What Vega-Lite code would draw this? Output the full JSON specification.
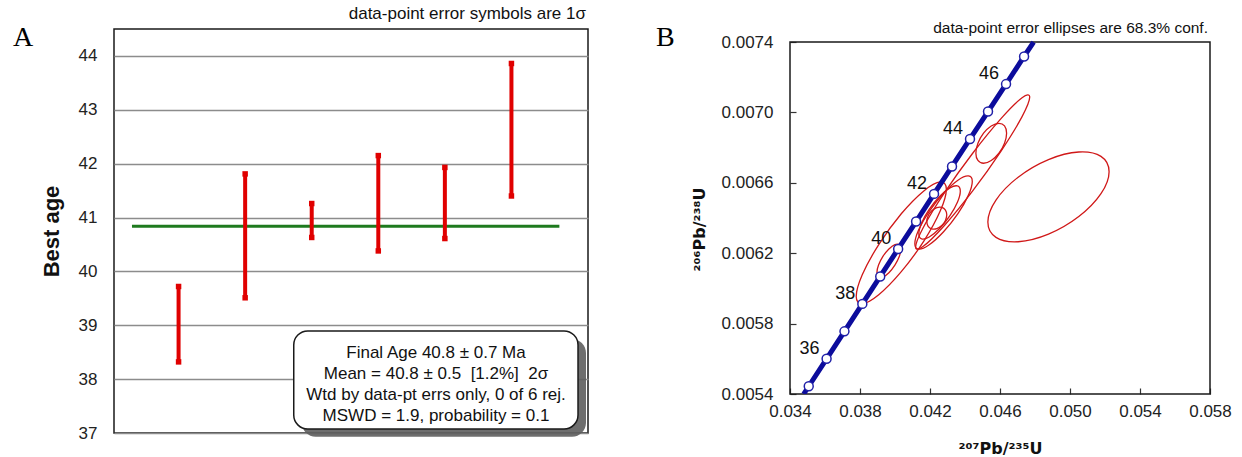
{
  "$schema": "https://vega.github.io/schema/vega-lite/v6.json",
  "background": "white",
  "padding": {"left": 12, "top": 4, "right": 0, "bottom": 0},
  "config": {
    "font": "Liberation Sans",
    "view": {"stroke": null},
    "axis": {"labelFont": "Liberation Sans", "titleFont": "Liberation Sans"}
  },
  "bounds": "flush",
  "spacing": 202,
  "datasets": {
    "ages": [
      {"n": 1, "lo": 38.32, "hi": 39.72},
      {"n": 2, "lo": 39.51, "hi": 41.81},
      {"n": 3, "lo": 40.63, "hi": 41.26},
      {"n": 4, "lo": 40.38, "hi": 42.15},
      {"n": 5, "lo": 40.61, "hi": 41.93},
      {"n": 6, "lo": 41.40, "hi": 43.86}
    ],
    "mean": [{"mean": 40.84}],
    "one": [{}],
    "concordia": [
      {"t": 34.717, "x": 0.034782, "y": 0.0054, "dot": false},
      {"t": 35, "x": 0.035071, "y": 0.005444, "dot": true},
      {"t": 36, "x": 0.036091, "y": 0.005600, "dot": true},
      {"t": 37, "x": 0.037112, "y": 0.005756, "dot": true},
      {"t": 38, "x": 0.038133, "y": 0.005912, "dot": true},
      {"t": 39, "x": 0.039156, "y": 0.006068, "dot": true},
      {"t": 40, "x": 0.040180, "y": 0.006224, "dot": true},
      {"t": 41, "x": 0.041205, "y": 0.006380, "dot": true},
      {"t": 42, "x": 0.042231, "y": 0.006537, "dot": true},
      {"t": 43, "x": 0.043258, "y": 0.006693, "dot": true},
      {"t": 44, "x": 0.044286, "y": 0.006849, "dot": true},
      {"t": 45, "x": 0.045315, "y": 0.007005, "dot": true},
      {"t": 46, "x": 0.046345, "y": 0.007161, "dot": true},
      {"t": 47, "x": 0.047376, "y": 0.007318, "dot": true},
      {"t": 47.528, "x": 0.047921, "y": 0.0074, "dot": false}
    ],
    "ellipses": [
      {"e": 1, "i": 0, "x": 0.052234, "y": 0.006663},
      {"e": 1, "i": 1, "x": 0.051770, "y": 0.006750},
      {"e": 1, "i": 2, "x": 0.050502, "y": 0.006775},
      {"e": 1, "i": 3, "x": 0.048770, "y": 0.006732},
      {"e": 1, "i": 4, "x": 0.047038, "y": 0.006632},
      {"e": 1, "i": 5, "x": 0.045770, "y": 0.006502},
      {"e": 1, "i": 6, "x": 0.045306, "y": 0.006377},
      {"e": 1, "i": 7, "x": 0.045770, "y": 0.006290},
      {"e": 1, "i": 8, "x": 0.047038, "y": 0.006265},
      {"e": 1, "i": 9, "x": 0.048770, "y": 0.006308},
      {"e": 1, "i": 10, "x": 0.050502, "y": 0.006408},
      {"e": 1, "i": 11, "x": 0.051770, "y": 0.006538},
      {"e": 2, "i": 0, "x": 0.046377, "y": 0.006882},
      {"e": 2, "i": 1, "x": 0.046259, "y": 0.006923},
      {"e": 2, "i": 2, "x": 0.045938, "y": 0.006938},
      {"e": 2, "i": 3, "x": 0.045499, "y": 0.006923},
      {"e": 2, "i": 4, "x": 0.045060, "y": 0.006882},
      {"e": 2, "i": 5, "x": 0.044739, "y": 0.006825},
      {"e": 2, "i": 6, "x": 0.044622, "y": 0.006768},
      {"e": 2, "i": 7, "x": 0.044739, "y": 0.006727},
      {"e": 2, "i": 8, "x": 0.045060, "y": 0.006711},
      {"e": 2, "i": 9, "x": 0.045499, "y": 0.006727},
      {"e": 2, "i": 10, "x": 0.045938, "y": 0.006768},
      {"e": 2, "i": 11, "x": 0.046259, "y": 0.006825},
      {"e": 3, "i": 0, "x": 0.047698, "y": 0.007087},
      {"e": 3, "i": 1, "x": 0.047261, "y": 0.007083},
      {"e": 3, "i": 2, "x": 0.046069, "y": 0.006966},
      {"e": 3, "i": 3, "x": 0.044439, "y": 0.006768},
      {"e": 3, "i": 4, "x": 0.042810, "y": 0.006541},
      {"e": 3, "i": 5, "x": 0.041617, "y": 0.006346},
      {"e": 3, "i": 6, "x": 0.041180, "y": 0.006235},
      {"e": 3, "i": 7, "x": 0.041617, "y": 0.006239},
      {"e": 3, "i": 8, "x": 0.042810, "y": 0.006356},
      {"e": 3, "i": 9, "x": 0.044439, "y": 0.006554},
      {"e": 3, "i": 10, "x": 0.046069, "y": 0.006782},
      {"e": 3, "i": 11, "x": 0.047261, "y": 0.006976},
      {"e": 4, "i": 0, "x": 0.042935, "y": 0.006564},
      {"e": 4, "i": 1, "x": 0.042589, "y": 0.006605},
      {"e": 4, "i": 2, "x": 0.041647, "y": 0.006554},
      {"e": 4, "i": 3, "x": 0.040359, "y": 0.006424},
      {"e": 4, "i": 4, "x": 0.039071, "y": 0.006249},
      {"e": 4, "i": 5, "x": 0.038129, "y": 0.006077},
      {"e": 4, "i": 6, "x": 0.037784, "y": 0.005954},
      {"e": 4, "i": 7, "x": 0.038129, "y": 0.005913},
      {"e": 4, "i": 8, "x": 0.039071, "y": 0.005964},
      {"e": 4, "i": 9, "x": 0.040359, "y": 0.006095},
      {"e": 4, "i": 10, "x": 0.041647, "y": 0.006269},
      {"e": 4, "i": 11, "x": 0.042589, "y": 0.006441},
      {"e": 5, "i": 0, "x": 0.040336, "y": 0.006223},
      {"e": 5, "i": 1, "x": 0.040244, "y": 0.006248},
      {"e": 5, "i": 2, "x": 0.039994, "y": 0.006249},
      {"e": 5, "i": 3, "x": 0.039652, "y": 0.006224},
      {"e": 5, "i": 4, "x": 0.039310, "y": 0.006182},
      {"e": 5, "i": 5, "x": 0.039060, "y": 0.006133},
      {"e": 5, "i": 6, "x": 0.038968, "y": 0.006091},
      {"e": 5, "i": 7, "x": 0.039060, "y": 0.006066},
      {"e": 5, "i": 8, "x": 0.039310, "y": 0.006065},
      {"e": 5, "i": 9, "x": 0.039652, "y": 0.006089},
      {"e": 5, "i": 10, "x": 0.039994, "y": 0.006132},
      {"e": 5, "i": 11, "x": 0.040244, "y": 0.006181},
      {"e": 6, "i": 0, "x": 0.044416, "y": 0.006608},
      {"e": 6, "i": 1, "x": 0.044196, "y": 0.006639},
      {"e": 6, "i": 2, "x": 0.043596, "y": 0.006615},
      {"e": 6, "i": 3, "x": 0.042775, "y": 0.006541},
      {"e": 6, "i": 4, "x": 0.041955, "y": 0.006438},
      {"e": 6, "i": 5, "x": 0.041354, "y": 0.006333},
      {"e": 6, "i": 6, "x": 0.041134, "y": 0.006254},
      {"e": 6, "i": 7, "x": 0.041354, "y": 0.006223},
      {"e": 6, "i": 8, "x": 0.041955, "y": 0.006248},
      {"e": 6, "i": 9, "x": 0.042775, "y": 0.006322},
      {"e": 6, "i": 10, "x": 0.043596, "y": 0.006425},
      {"e": 6, "i": 11, "x": 0.044196, "y": 0.006530},
      {"e": 7, "i": 0, "x": 0.043732, "y": 0.006552},
      {"e": 7, "i": 1, "x": 0.043573, "y": 0.006582},
      {"e": 7, "i": 2, "x": 0.043140, "y": 0.006571},
      {"e": 7, "i": 3, "x": 0.042547, "y": 0.006522},
      {"e": 7, "i": 4, "x": 0.041954, "y": 0.006449},
      {"e": 7, "i": 5, "x": 0.041521, "y": 0.006372},
      {"e": 7, "i": 6, "x": 0.041362, "y": 0.006310},
      {"e": 7, "i": 7, "x": 0.041521, "y": 0.006281},
      {"e": 7, "i": 8, "x": 0.041954, "y": 0.006292},
      {"e": 7, "i": 9, "x": 0.042547, "y": 0.006340},
      {"e": 7, "i": 10, "x": 0.043140, "y": 0.006413},
      {"e": 7, "i": 11, "x": 0.043573, "y": 0.006491},
      {"e": 8, "i": 0, "x": 0.042958, "y": 0.006418},
      {"e": 8, "i": 1, "x": 0.042882, "y": 0.006445},
      {"e": 8, "i": 2, "x": 0.042673, "y": 0.006460},
      {"e": 8, "i": 3, "x": 0.042388, "y": 0.006459},
      {"e": 8, "i": 4, "x": 0.042103, "y": 0.006441},
      {"e": 8, "i": 5, "x": 0.041895, "y": 0.006413},
      {"e": 8, "i": 6, "x": 0.041818, "y": 0.006380},
      {"e": 8, "i": 7, "x": 0.041895, "y": 0.006353},
      {"e": 8, "i": 8, "x": 0.042103, "y": 0.006338},
      {"e": 8, "i": 9, "x": 0.042388, "y": 0.006339},
      {"e": 8, "i": 10, "x": 0.042673, "y": 0.006357},
      {"e": 8, "i": 11, "x": 0.042882, "y": 0.006386}
    ]
  },
  "hconcat": [
    {
      "width": 474,
      "height": 404,
      "view": {"stroke": "#1a1a1a", "strokeWidth": 1.5},
      "layer": [
        {
          "data": {"name": "mean"},
          "mark": {"type": "rule", "color": "#1e7a1e", "strokeWidth": 3},
          "encoding": {
            "x": {"datum": 0.3, "type": "quantitative", "scale": {"domain": [0.03, 7.15], "nice": false, "zero": false}, "axis": null},
            "x2": {"datum": 6.72},
            "y": {
              "field": "mean", "type": "quantitative",
              "scale": {"domain": [37, 44.5], "nice": false, "zero": false},
              "axis": {
                "title": "Best age",
                "values": [37, 37.5, 38, 38.5, 39, 39.5, 40, 40.5, 41, 41.5, 42, 42.5, 43, 43.5, 44],
                "labelExpr": "datum.value % 1 === 0 ? format(datum.value, 'd') : ''",
                "grid": true,
                "gridColor": {"condition": {"test": "datum.value % 1 !== 0", "value": "#333333"}, "value": "#8c8c8c"},
                "gridDash": {"condition": {"test": "datum.value % 1 !== 0", "value": [6, 3000]}, "value": []},
                "gridWidth": {"condition": {"test": "datum.value % 1 !== 0", "value": 1.2}, "value": 1.5},
                "domain": false,
                "ticks": false,
                "labelFontSize": 17, "labelColor": "#222222", "labelPadding": 17,
                "titleFontSize": 22, "titleFontWeight": "bold", "titleColor": "#111111", "titlePadding": 15
              }
            }
          }
        },
        {
          "data": {"name": "ages"},
          "mark": {"type": "rule", "color": "#e00000", "strokeWidth": 4},
          "encoding": {
            "x": {"field": "n", "type": "quantitative"},
            "y": {"field": "lo", "type": "quantitative"},
            "y2": {"field": "hi"}
          }
        },
        {
          "data": {"name": "ages"},
          "mark": {"type": "point", "shape": "square", "filled": true, "color": "#e00000", "size": 30, "opacity": 1},
          "encoding": {
            "x": {"field": "n", "type": "quantitative"},
            "y": {"field": "lo", "type": "quantitative"}
          }
        },
        {
          "data": {"name": "ages"},
          "mark": {"type": "point", "shape": "square", "filled": true, "color": "#e00000", "size": 30, "opacity": 1},
          "encoding": {
            "x": {"field": "n", "type": "quantitative"},
            "y": {"field": "hi", "type": "quantitative"}
          }
        },
        {
          "data": {"name": "one"},
          "mark": {"type": "rect", "fill": "#5e5e5e", "cornerRadius": 14, "opacity": 0.9},
          "encoding": {
            "x": {"datum": 2.85, "type": "quantitative"},
            "x2": {"datum": 7.12},
            "y": {"datum": 36.93, "type": "quantitative"},
            "y2": {"datum": 38.745}
          }
        },
        {
          "data": {"name": "one"},
          "mark": {"type": "rect", "fill": "white", "stroke": "#1a1a1a", "strokeWidth": 1.5, "cornerRadius": 14},
          "encoding": {
            "x": {"datum": 2.73, "type": "quantitative"},
            "x2": {"datum": 7.0},
            "y": {"datum": 37.075, "type": "quantitative"},
            "y2": {"datum": 38.894}
          }
        },
        {
          "data": {"name": "one"},
          "mark": {"type": "text", "fontSize": 17, "lineHeight": 21, "align": "center", "baseline": "middle", "color": "#111111"},
          "encoding": {
            "x": {"datum": 4.867, "type": "quantitative"},
            "y": {"datum": 38.49, "type": "quantitative"},
            "text": {"value": ["Final Age 40.8 ± 0.7 Ma", "Mean = 40.8 ± 0.5 \u00a0[1.2%] \u00a02σ", "Wtd by data-pt errs only, 0 of 6 rej.", "MSWD = 1.9, probability = 0.1"]}
          }
        },
        {
          "data": {"name": "one"},
          "mark": {"type": "text", "fontSize": 17, "align": "right", "baseline": "alphabetic", "dx": -2, "dy": -10, "color": "#111111"},
          "encoding": {
            "x": {"datum": 7.15, "type": "quantitative"},
            "y": {"datum": 44.5, "type": "quantitative"},
            "text": {"value": "data-point error symbols are 1σ"}
          }
        },
        {
          "data": {"name": "one"},
          "mark": {"type": "text", "font": "Liberation Serif", "fontSize": 28, "align": "left", "baseline": "alphabetic", "dx": -101, "dy": 17, "color": "#000000"},
          "encoding": {
            "x": {"datum": 0.03, "type": "quantitative"},
            "y": {"datum": 44.5, "type": "quantitative"},
            "text": {"value": "A"}
          }
        }
      ]
    },
    {
      "width": 420,
      "height": 365,
      "layer": [
        {
          "data": {"name": "one"},
          "mark": {"type": "rect", "fillOpacity": 0, "stroke": "#1a1a1a", "strokeWidth": 1.5},
          "encoding": {
            "x": {
              "datum": 0.034, "type": "quantitative",
              "scale": {"domain": [0.034, 0.058], "nice": false, "zero": false},
              "axis": {
                "title": "²⁰⁷Pb/²³⁵U",
                "values": [0.034, 0.036, 0.038, 0.040, 0.042, 0.044, 0.046, 0.048, 0.050, 0.052, 0.054, 0.056, 0.058],
                "labelExpr": "(round(datum.value*1000)-34)%4===0 ? format(datum.value,'.3f') : ''",
                "labelFlush": false,
                "domain": false, "ticks": false,
                "grid": true, "gridDash": [6, 359], "gridDashOffset": 6, "gridColor": "#333333", "gridWidth": 1.2, "gridOpacity": 1,
                "labelFontSize": 17, "labelColor": "#222222", "labelPadding": 9,
                "titleFont": "DejaVu Sans", "titleFontSize": 16, "titleFontWeight": "bold", "titleColor": "#111111", "titlePadding": 21
              }
            },
            "x2": {"datum": 0.058},
            "y": {
              "datum": 0.0054, "type": "quantitative",
              "scale": {"domain": [0.0054, 0.0074739], "nice": false, "zero": false},
              "axis": {
                "title": "²⁰⁶Pb/²³⁸U",
                "values": [0.0054, 0.0056, 0.0058, 0.0060, 0.0062, 0.0064, 0.0066, 0.0068, 0.0070, 0.0072, 0.0074],
                "labelExpr": "(round(datum.value*10000)-54)%4===0 ? format(datum.value,'.4f') : ''",
                "labelFlush": false,
                "domain": false, "ticks": false,
                "grid": true, "gridDash": [6, 3000], "gridColor": "#333333", "gridWidth": 1.2, "gridOpacity": 1,
                "labelFontSize": 17, "labelColor": "#222222", "labelPadding": 17,
                "titleFont": "DejaVu Sans", "titleFontSize": 16, "titleFontWeight": "bold", "titleColor": "#111111", "titlePadding": 14,
                "titleY": 200
              }
            },
            "y2": {"datum": 0.0074}
          }
        },
        {
          "data": {"name": "ellipses"},
          "mark": {"type": "line", "interpolate": "cardinal-closed", "color": "#d01818", "strokeWidth": 1.3, "clip": true},
          "encoding": {
            "x": {"field": "x", "type": "quantitative"},
            "y": {"field": "y", "type": "quantitative"},
            "detail": {"field": "e", "type": "nominal"},
            "order": {"field": "i", "type": "quantitative"}
          }
        },
        {
          "data": {"name": "concordia"},
          "mark": {"type": "line", "color": "#0c0c9c", "strokeWidth": 5, "clip": true},
          "encoding": {
            "x": {"field": "x", "type": "quantitative"},
            "y": {"field": "y", "type": "quantitative"},
            "order": {"field": "t", "type": "quantitative"}
          }
        },
        {
          "data": {"name": "concordia"},
          "transform": [{"filter": "datum.dot"}],
          "mark": {"type": "point", "filled": true, "fill": "white", "stroke": "#2020a8", "strokeWidth": 1.5, "size": 80, "opacity": 1},
          "encoding": {
            "x": {"field": "x", "type": "quantitative"},
            "y": {"field": "y", "type": "quantitative"}
          }
        },
        {
          "data": {"name": "concordia"},
          "transform": [{"filter": "datum.t === 36 || datum.t === 38 || datum.t === 40 || datum.t === 42 || datum.t === 44 || datum.t === 46"}],
          "mark": {"type": "text", "fontSize": 18, "align": "center", "baseline": "middle", "dx": -17, "dy": -10, "color": "#111111"},
          "encoding": {
            "x": {"field": "x", "type": "quantitative"},
            "y": {"field": "y", "type": "quantitative"},
            "text": {"field": "t", "type": "quantitative"}
          }
        },
        {
          "data": {"name": "one"},
          "mark": {"type": "text", "fontSize": 15.5, "align": "right", "baseline": "alphabetic", "dx": -2, "dy": -9, "color": "#111111"},
          "encoding": {
            "x": {"datum": 0.058, "type": "quantitative"},
            "y": {"datum": 0.0074, "type": "quantitative"},
            "text": {"value": "data-point error ellipses are 68.3% conf."}
          }
        },
        {
          "data": {"name": "one"},
          "mark": {"type": "text", "font": "Liberation Serif", "fontSize": 28, "align": "left", "baseline": "alphabetic", "dx": -134, "dy": 4, "color": "#000000"},
          "encoding": {
            "x": {"datum": 0.034, "type": "quantitative"},
            "y": {"datum": 0.0074, "type": "quantitative"},
            "text": {"value": "B"}
          }
        }
      ]
    }
  ]
}
